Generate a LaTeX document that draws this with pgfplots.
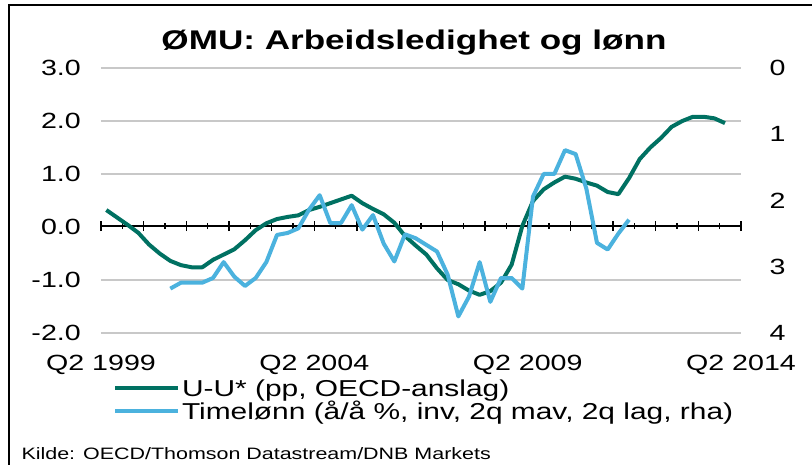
\documentclass[border=0pt]{standalone}
\usepackage{fontspec}
\setmainfont{Liberation Sans}[FakeStretch=1.3]
\usepackage{pgfplots}
\pgfplotsset{compat=1.18}
\definecolor{ugreen}{RGB}{0,113,98}
\definecolor{ublue}{RGB}{75,178,222}
\definecolor{gridgray}{RGB}{200,200,200}

\pgfplotstableread{
x y
0.5 0.32
1.5 0.18
2.5 0.04
3.5 -0.11
4.5 -0.33
5.5 -0.50
6.5 -0.64
7.5 -0.72
8.5 -0.76
9.5 -0.76
10.5 -0.62
11.5 -0.52
12.5 -0.42
13.5 -0.25
14.5 -0.06
15.5 0.07
16.5 0.15
17.5 0.19
18.5 0.22
19.5 0.32
20.5 0.38
21.5 0.45
22.5 0.52
23.5 0.59
24.5 0.45
25.5 0.34
26.5 0.24
27.5 0.08
28.5 -0.17
29.5 -0.35
30.5 -0.52
31.5 -0.78
32.5 -1.00
33.5 -1.08
34.5 -1.20
35.5 -1.28
36.5 -1.21
37.5 -1.05
38.5 -0.71
39.5 0.02
40.5 0.49
41.5 0.71
42.5 0.84
43.5 0.95
44.5 0.91
45.5 0.84
46.5 0.78
47.5 0.66
48.5 0.62
49.5 0.92
50.5 1.28
51.5 1.50
52.5 1.68
53.5 1.89
54.5 2.00
55.5 2.08
56.5 2.08
57.5 2.05
58.5 1.96
}\uu

\pgfplotstableread{
x y
6.5 3.33
7.5 3.24
8.5 3.24
9.5 3.24
10.5 3.17
11.5 2.93
12.5 3.15
13.5 3.29
14.5 3.17
15.5 2.93
16.5 2.52
17.5 2.49
18.5 2.42
19.5 2.14
20.5 1.92
21.5 2.34
22.5 2.34
23.5 2.07
24.5 2.44
25.5 2.22
26.5 2.65
27.5 2.92
28.5 2.51
29.5 2.57
30.5 2.67
31.5 2.77
32.5 3.12
33.5 3.75
34.5 3.45
35.5 2.93
36.5 3.53
37.5 3.17
38.5 3.17
39.5 3.33
40.5 1.94
41.5 1.60
42.5 1.60
43.5 1.24
44.5 1.30
45.5 1.82
46.5 2.64
47.5 2.74
48.5 2.50
49.5 2.29
}\wage

\begin{document}
\begin{tikzpicture}
\useasboundingbox (0,0) rectangle (812pt,465pt);
\fill[white] (0,0) rectangle (812pt,465pt);
\draw[line width=2pt] (9pt,0) -- (9pt,460pt) -- (812pt,460pt);
\node[anchor=base, font=\fontsize{27}{30}\selectfont\bfseries] at (414pt,415pt) {ØMU: Arbeidsledighet og lønn};
\node[anchor=base west, font=\fontsize{16.5}{19}\selectfont] at (18pt,5pt) {Kilde: OECD/Thomson Datastream/DNB Markets};

% zero line with tick marks
\begin{axis}[
  at={(101pt,238.8pt)}, anchor=south west, scale only axis,
  width=640pt, height=20pt,
  xmin=0, xmax=60, ymin=0, ymax=1,
  axis x line*=bottom, axis y line=none,
  x axis line style={-, line width=1.6pt, black},
  xtick={0,4,...,60}, minor xtick={2,6,...,58}, xticklabels={},
  xtick align=center, major tick length=10pt, minor tick length=6pt,
  every tick/.style={line width=1.6pt, black},
  every minor tick/.style={line width=1.6pt, black},
]
\addplot[draw=none] coordinates {(0,0.5)};
\end{axis}

\begin{axis}[
  at={(101pt,132pt)}, anchor=south west, scale only axis,
  width=640pt, height=265pt,
  xmin=0, xmax=60, ymin=-2, ymax=3,
  axis x line=none, axis y line=left,
  y axis line style={draw=none},
  ytick={-2,-1,1,2,3}, ytick style={draw=none}, ytick align=inside,
  extra y ticks={0}, extra y tick style={grid=none},
  ymajorgrids, grid style={gridgray, line width=1.5pt},
  tick label style={font=\fontsize{22}{24}\selectfont},
  /pgf/number format/assume math mode=true,
  /pgf/number format/.cd, fixed, fixed zerofill, precision=1, /pgfplots/.cd,
  yticklabel style={anchor=east, xshift=-16.7pt},
  legend style={at={(0.01875,-0.164)}, anchor=north west, draw=none, fill=none,
    inner sep=0pt, outer sep=0pt, font=\fontsize{23}{24}\selectfont,
    nodes={inner sep=0pt, text height=20pt, text depth=3pt},
    row sep=0pt, column sep=2pt},
  legend cell align=left,
  legend image code/.code={\draw[#1] (0pt,0pt) -- (63pt,0pt);},
]
\addplot[ugreen, line width=4pt, line join=round] table[x=x,y=y]{\uu};
\addlegendentry{U-U* (pp, OECD-anslag)}
\addlegendimage{ublue, line width=4pt}
\addlegendentry{Timelønn (å/å \%, inv, 2q mav, 2q lag, rha)}
\end{axis}

\begin{axis}[
  at={(101pt,132pt)}, anchor=south west, scale only axis,
  width=640pt, height=265pt,
  xmin=0, xmax=60, ymin=0, ymax=4, y dir=reverse,
  axis x line*=bottom, axis y line*=right,
  x axis line style={draw=none}, y axis line style={draw=none},
  xtick={0,20,40,60}, xticklabels={Q2 1999,Q2 2004,Q2 2009,Q2 2014},
  xtick style={draw=none}, ytick style={draw=none},
  xtick align=inside, ytick align=inside,
  ytick={0,1,...,4},
  tick label style={font=\fontsize{22}{24}\selectfont},
  /pgf/number format/assume math mode=true,
  xticklabel style={anchor=base, yshift=-38pt},
  yticklabel style={anchor=west, xshift=25pt},
]
\addplot[ublue, line width=4pt, line join=round] table[x=x,y=y]{\wage};
\end{axis}
\end{tikzpicture}
\end{document}
